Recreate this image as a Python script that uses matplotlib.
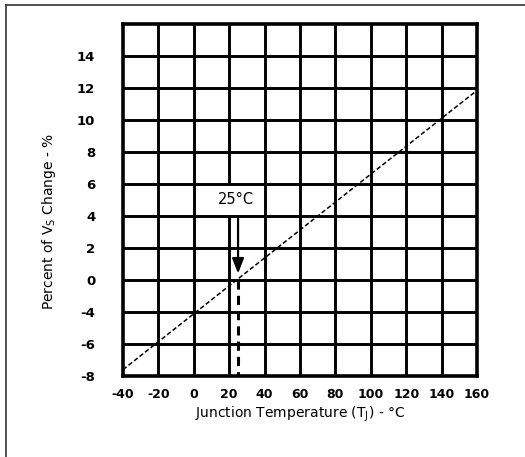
import matplotlib
matplotlib.use("Agg")
import matplotlib.pyplot as plt
from matplotlib.lines import Line2D

# ---- data ----
temps = [-40, 160]                 # junction temperature (deg C)
pct_change = [-5.6, 11.85]         # percent change
x_ticks = [-40, -20, 0, 20, 40, 60, 80, 100, 120, 140, 160]
x_tick_labels = ["-40", "-20", "0", "20", "40", "60", "80", "100", "120", "140", "160"]
y_ticks = [-6, -4, -2, 0, 2, 4, 6, 8, 10, 12, 14]
y_tick_labels = ["-8", "-6", "-4", "0", "2", "4", "6", "8", "10", "12", "14"]
y_limits = (-6, 16)
ref_temp = 25
ref_label = "25°C"
arrow_from = 3.9
arrow_to = 0.4

W, H = 525, 457
fig = plt.figure(figsize=(W / 100, H / 100), dpi=100)
ax = fig.add_axes([123 / W, 1 - 376 / H, 354 / W, 352 / H])

ax.set_xlim(x_ticks[0], x_ticks[-1])
ax.set_ylim(*y_limits)

grid_lw = 2.1
# vertical grid lines (below label box)
ax.vlines(x_ticks[1:-1], y_limits[0], y_limits[1], color="black", lw=grid_lw, zorder=1)
# label box
ax.text(24, 5.05, ref_label, ha="center", va="center", fontsize=10.5, zorder=2,
        bbox=dict(facecolor="white", edgecolor="none", boxstyle="square,pad=0.62"))
# horizontal grid lines (above label box)
ax.hlines(y_ticks[1:], x_ticks[0], x_ticks[-1], color="black", lw=grid_lw, zorder=3)

# data line
ax.plot(temps, pct_change, color="black", lw=1.1, ls=(0, (3, 1.6)), zorder=4)

# reference dashed line
ax.plot([ref_temp, ref_temp], [0, y_limits[0]], color="black", lw=2.2,
        ls=(0, (3, 2)), zorder=4)
# arrow
ax.annotate("", xy=(ref_temp, arrow_to), xytext=(ref_temp, arrow_from),
            arrowprops=dict(arrowstyle="-|>,head_width=0.35,head_length=0.9",
                            color="black", lw=1.6, shrinkA=0, shrinkB=0), zorder=5)

for s in ax.spines.values():
    s.set_linewidth(2.6)
    s.set_zorder(6)

ax.set_xticks(x_ticks)
ax.set_xticklabels(x_tick_labels, fontsize=9, fontweight="bold")
ax.set_yticks(y_ticks)
ax.set_yticklabels(y_tick_labels, fontsize=9.5, fontweight="bold")
ax.tick_params(length=0)
ax.tick_params(axis="y", pad=20)
ax.tick_params(axis="x", pad=9)

ax.set_xlabel("Junction Temperature (T$_{\\rm J}$) - °C", fontsize=10)
ax.xaxis.set_label_coords(0.5, -0.082)
ax.set_ylabel("Percent of V$_{\\rm S}$ Change - %", fontsize=10)
ax.yaxis.set_label_coords(-0.185, 0.44)

# outer frame
fig.add_artist(Line2D([6 / W, 6 / W], [0, 1 - 5 / H], transform=fig.transFigure,
                      color="#333333", lw=1.2))
fig.add_artist(Line2D([6 / W, 1], [1 - 5 / H, 1 - 5 / H], transform=fig.transFigure,
                      color="#333333", lw=1.2))

fig.savefig("out.png", dpi=100)
